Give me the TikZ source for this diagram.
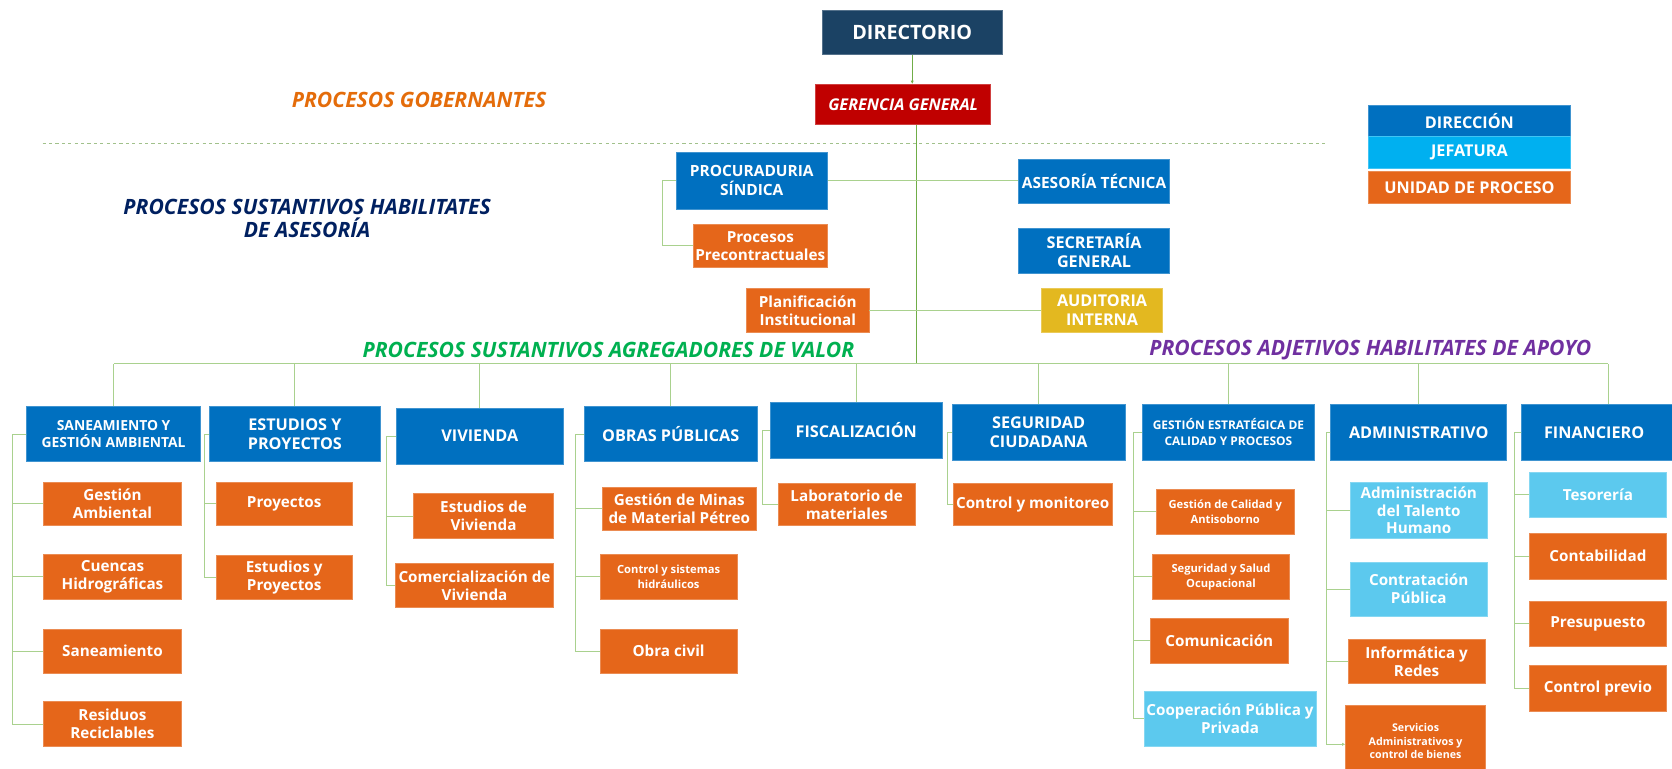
\documentclass[tikz,border=0pt]{standalone}
\usepackage{fontspec}
\setmainfont{Open Sans}
\usetikzlibrary{arrows.meta}

\definecolor{cnavy}{HTML}{1B4264}
\definecolor{cred}{HTML}{C00000}
\definecolor{cdir}{HTML}{0070C0}
\definecolor{cjef}{HTML}{00B0F0}
\definecolor{cjefl}{HTML}{5CC9EE}
\definecolor{cuni}{HTML}{E5661A}
\definecolor{cgold}{HTML}{E3B820}
\definecolor{clink}{HTML}{A9D18E}
\definecolor{ctrunk}{HTML}{70AD47}
\definecolor{tgob}{HTML}{E46C0A}
\definecolor{tase}{HTML}{002060}
\definecolor{tval}{HTML}{00B050}
\definecolor{tapo}{HTML}{7030A0}

\tikzset{
  box/.style={draw=#1!75!white, fill=#1, text=white, align=center, inner sep=1pt, line width=0.6pt},
  sz/.style 2 args={minimum width=#1, minimum height=#2},
  fXL/.style={font=\fontsize{18.5}{22}\selectfont\bfseries},
  fL/.style={font=\fontsize{15.2}{17.5}\selectfont\bfseries},
  fLs/.style={font=\fontsize{14.5}{17.5}\selectfont\bfseries},
  fM/.style={font=\fontsize{14.3}{17}\selectfont\bfseries},
  fS/.style={font=\fontsize{13}{15.5}\selectfont\bfseries},
  fXS/.style={font=\fontsize{10.5}{14}\selectfont\bfseries},
  lbl/.style={font=\fontsize{19.8}{21}\selectfont\bfseries\itshape, align=center},
  link/.style={draw=clink, line width=0.9pt},
  trunk/.style={draw=ctrunk, line width=0.9pt},
}

\begin{document}
\begin{tikzpicture}[x=1pt,y=-1pt]
 \useasboundingbox (0,0) rectangle (1568,721);
 \draw[clink!80!gray, dash pattern=on 3pt off 3pt, line width=0.5pt] (40,134) -- (1245,134);

 % gobierno
 \node[box=cnavy, sz={169}{41}, fXL] (dir) at (855.5,30.5) {DIRECTORIO};
 \node[box=cred, sz={164}{38}, fL] (ger) at (847,98) {\itshape GERENCIA GENERAL};
 \node[lbl, text=tgob] (lgob) at (393,94) {PROCESOS GOBERNANTES};
 \node[lbl, text=tase] (lase) at (288,205) {PROCESOS SUSTANTIVOS HABILITATES\\DE ASESORÍA};

 % asesoria
 \node[box=cdir, sz={142}{53}, fLs] (pro) at (705,169.5) {PROCURADURIA\\SÍNDICA};
 \node[box=cuni, sz={126}{41}, fM] (pre) at (713,230.5) {Procesos\\Precontractuales};
 \node[box=cdir, sz={142}{42}, fLs] (ase) at (1026,170) {ASESORÍA TÉCNICA};
 \node[box=cdir, sz={142}{42}, fL] (sec) at (1026,235) {SECRETARÍA\\GENERAL};
 \node[box=cgold, sz={113}{42}, fL] (aud) at (1033.5,291) {AUDITORIA\\INTERNA};
 \node[box=cuni, sz={115}{42}, fM] (pla) at (757.5,291) {Planificación\\Institucional};

 % leyenda
 \node[box=cdir, sz={190}{29}, fL] (ldir) at (1378,113.5) {DIRECCIÓN};
 \node[box=cjef, sz={190}{30}, fL] (ljef) at (1378,143) {JEFATURA};
 \node[box=cuni, sz={190}{30}, fL] (luni) at (1378,176) {UNIDAD DE PROCESO};

 \node[lbl, text=tval] (lval) at (570.5,328) {PROCESOS SUSTANTIVOS AGREGADORES DE VALOR};
 \node[lbl, text=tapo] (lapo) at (1285,328) {PROCESOS ADJETIVOS HABILITATES DE APOYO};

 % direcciones
 \node[box=cdir, sz={163}{52}, fS] (san) at (106.5,407) {SANEAMIENTO Y\\GESTIÓN AMBIENTAL};
 \node[box=cdir, sz={161}{52}, fL] (est) at (276.5,407) {ESTUDIOS Y\\PROYECTOS};
 \node[box=cdir, sz={156}{52}, fL] (viv) at (450,409) {VIVIENDA};
 \node[box=cdir, sz={162}{52}, fL] (obr) at (629,407) {OBRAS PÚBLICAS};
 \node[box=cdir, sz={162}{53}, fL] (fis) at (803,403.5) {FISCALIZACIÓN};
 \node[box=cdir, sz={162}{53}, fL] (seg) at (974,405.5) {SEGURIDAD\\CIUDADANA};
 \node[box=cdir, sz={162}{53}, font=\fontsize{11.2}{15}\selectfont\bfseries] (gec) at (1152,405.5) {GESTIÓN ESTRATÉGICA DE\\CALIDAD Y PROCESOS};
 \node[box=cdir, sz={165}{53}, fL] (adm) at (1330.5,405.5) {ADMINISTRATIVO};
 \node[box=cdir, sz={162}{53}, fL] (fin) at (1508,405.5) {\hspace*{-26pt}FINANCIERO};

 % unidades
 \node[box=cuni, sz={129}{41}, fM] (gam) at (105.5,472.5) {Gestión\\Ambiental};
 \node[box=cuni, sz={129}{42}, fM] (cue) at (105.5,541) {Cuencas\\Hidrográficas};
 \node[box=cuni, sz={129}{41}, fM] (sne) at (105.5,610.5) {Saneamiento};
 \node[box=cuni, sz={129}{42}, fM] (res) at (105.5,679) {Residuos\\Reciclables};

 \node[box=cuni, sz={127}{41}, fM] (pry) at (266.5,472.5) {Proyectos};
 \node[box=cuni, sz={127}{41}, fM] (eyp) at (266.5,541.5) {Estudios y\\Proyectos};

 \node[box=cuni, sz={131}{42}, fM] (edv) at (453.5,484) {Estudios de\\Vivienda};
 \node[box=cuni, sz={148}{42}, fM] (com) at (445,549) {Comercialización de\\Vivienda};

 \node[box=cuni, sz={144}{40}, fM] (min) at (637,477) {Gestión de Minas\\de Material Pétreo};
 \node[box=cuni, sz={128}{42}, fXS] (hid) at (627,541) {Control y sistemas\\hidráulicos};
 \node[box=cuni, sz={128}{41}, fM] (ocv) at (627,610.5) {Obra civil};

 \node[box=cuni, sz={128}{40}, fM] (lab) at (794,473) {Laboratorio de\\materiales};

 \node[box=cuni, sz={149}{40}, fM] (mon) at (968.5,473) {Control y monitoreo};

 \node[box=cuni, sz={130}{42}, fXS] (cal) at (1149,480) {Gestión de Calidad y\\Antisoborno};
 \node[box=cuni, sz={128}{42}, fXS] (sso) at (1145,541) {Seguridad y Salud\\Ocupacional};
 \node[box=cuni, sz={129}{42}, fM] (cmn) at (1143.5,601) {Comunicación};
 \node[box=cjefl, sz={161}{52}, fM] (coo) at (1153.5,674) {Cooperación Pública y\\Privada};

 \node[box=cjefl, sz={129}{53}, font=\fontsize{14.3}{16}\selectfont\bfseries] (tal) at (1330.5,478.5) {Administración\\del Talento\\Humano};
 \node[box=cjefl, sz={129}{51}, fM] (ctp) at (1330.5,552.5) {Contratación\\Pública};
 \node[box=cuni, sz={129}{41}, fM] (inf) at (1328.5,620.5) {Informática y\\Redes};
 \node[box=cuni, sz={131}{68}, font=\fontsize{10}{13}\selectfont\bfseries] (ser) at (1327.5,695) {Servicios\\Administrativos y\\control de bienes};

 \node[box=cjefl, sz={129}{42}, fM] (tes) at (1498.5,464) {Tesorería};
 \node[box=cuni, sz={129}{43}, fM] (cnt) at (1498.5,521.5) {Contabilidad};
 \node[box=cuni, sz={129}{42}, fM] (pre2) at (1498.5,585) {Presupuesto};
 \node[box=cuni, sz={129}{43}, fM] (cpv) at (1498.5,645.5) {Control previo};

 % conectores
 \coordinate (bus) at (859.5,341);
 \draw[trunk, -{Latex[length=3pt,width=3pt]}] (dir.south) -- (dir.south |- ger.north);
 \draw[trunk] (bus |- ger.south) -- (bus);
 \draw[link] (pro.east) -- (pro.east -| ase.west);
 \draw[link] (pla.east) -- (pla.east -| aud.west);
 \draw[link] (pro.west) -- ++(-12,0) |- (pre.west);
 \draw[link] (san.north |- bus) -- (fin.north |- bus);
 \foreach \h in {san,est,viv,obr,fis,seg,gec,adm,fin}
   \draw[link] (\h.north) -- (\h.north |- bus);
 \foreach \c in {gam,cue,sne,res} \draw[link] (san.west) -- ++(-13,0) |- (\c.west);
 \foreach \c in {pry,eyp} \draw[link] (est.west) -- ++(-4,0) |- (\c.west);
 \foreach \c in {edv,com} \draw[link] (viv.west) -- ++(-9,0) |- (\c.west);
 \foreach \c in {min,hid,ocv} \draw[link] (obr.west) -- ++(-8,0) |- (\c.west);
 \draw[link] (fis.west) -- ++(-7,0) |- (lab.west);
 \draw[link] (seg.west) -- ++(-4,0) |- (mon.west);
 \foreach \c in {cal,sso,cmn,coo} \draw[link] (gec.west) -- ++(-8,0) |- (\c.west);
 \foreach \c in {tal,ctp,inf} \draw[link] (adm.west) -- ++(-4,0) |- (\c.west);
 \draw[link, -{Latex[length=3pt,width=3pt]}] (adm.west) -- ++(-4,0) |- ([yshift=-3pt]ser.west);
 \foreach \c in {tes,cnt,pre2,cpv} \draw[link] (fin.west) -- ++(-6,0) |- (\c.west);
\end{tikzpicture}
\end{document}
